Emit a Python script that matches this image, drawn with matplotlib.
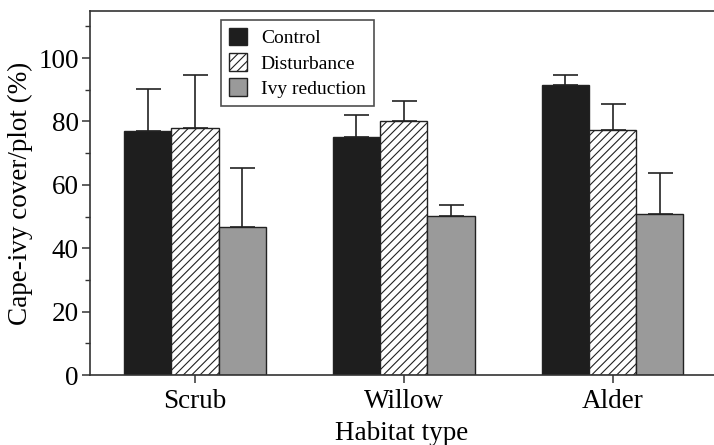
import numpy as np
import matplotlib
matplotlib.use("Agg")
import matplotlib.pyplot as plt
from matplotlib.ticker import MultipleLocator

habitats = ["Scrub", "Willow", "Alder"]
treatments = ["Control", "Disturbance", "Ivy reduction"]

control = [77.0, 75.0, 91.6]
disturbance = [78.0, 80.3, 77.3]
ivy_reduction = [46.8, 50.2, 50.9]

control_err = [13.1, 7.0, 3.0]
disturbance_err = [16.7, 6.3, 8.3]
ivy_reduction_err = [18.4, 3.6, 13.0]

plt.rcParams["font.family"] = ["Liberation Serif", "DejaVu Serif"]
plt.rcParams["hatch.linewidth"] = 0.8

fig = plt.figure(figsize=(7.14, 4.45), dpi=100)
ax = fig.add_axes([0.126, 0.157, 0.874, 0.818])

x = np.arange(len(habitats))
w = 0.2266
styles = [
    dict(color="#1e1e1e", hatch=None),
    dict(color="white", hatch="////"),
    dict(color="#9a9a9a", hatch=None),
]
series = [control, disturbance, ivy_reduction]
errs = [control_err, disturbance_err, ivy_reduction_err]

for i, (vals, err, st, lab) in enumerate(zip(series, errs, styles, treatments)):
    pos = x + (i - 1) * w
    ax.bar(pos, vals, w, color=st["color"], hatch=st["hatch"], edgecolor="#222222",
           linewidth=1.0, label=lab, zorder=2)
    ax.errorbar(pos, vals, yerr=[np.zeros(len(err)), err], fmt="none", ecolor="#222222",
                elinewidth=1.2, capsize=9, capthick=1.2, zorder=1)

ax.set_xlim(-0.503, 2.486)
ax.set_ylim(0, 114.8)
ax.set_xticks(x)
ax.set_xticklabels(habitats)
ax.yaxis.set_major_locator(MultipleLocator(20))
ax.yaxis.set_minor_locator(MultipleLocator(10))
ax.tick_params(axis="both", which="major", direction="out", length=6, width=1.1,
               labelsize=19.5, color="#333333")
ax.tick_params(axis="y", which="minor", direction="out", length=3.5, width=1.0, color="#333333")
ax.tick_params(axis="x", pad=4)
ax.tick_params(axis="y", pad=2)

for side in ["left", "bottom", "top"]:
    ax.spines[side].set_linewidth(1.2)
    ax.spines[side].set_color("#333333")
ax.spines["right"].set_visible(False)

ax.set_ylabel("Cape-ivy cover/plot (%)", fontsize=19.5, labelpad=4)
ax.set_xlabel("Habitat type", fontsize=19.5, labelpad=5)

leg = ax.legend(loc="upper left", bbox_to_anchor=(0.21, 0.975), borderaxespad=0,
                fontsize=14, frameon=True, fancybox=False, edgecolor="#222222",
                handlelength=0.95, handleheight=1.0, handletextpad=0.7,
                labelspacing=0.3, borderpad=0.4)
leg.get_frame().set_linewidth(1.2)

fig.savefig("out.png", dpi=100)
